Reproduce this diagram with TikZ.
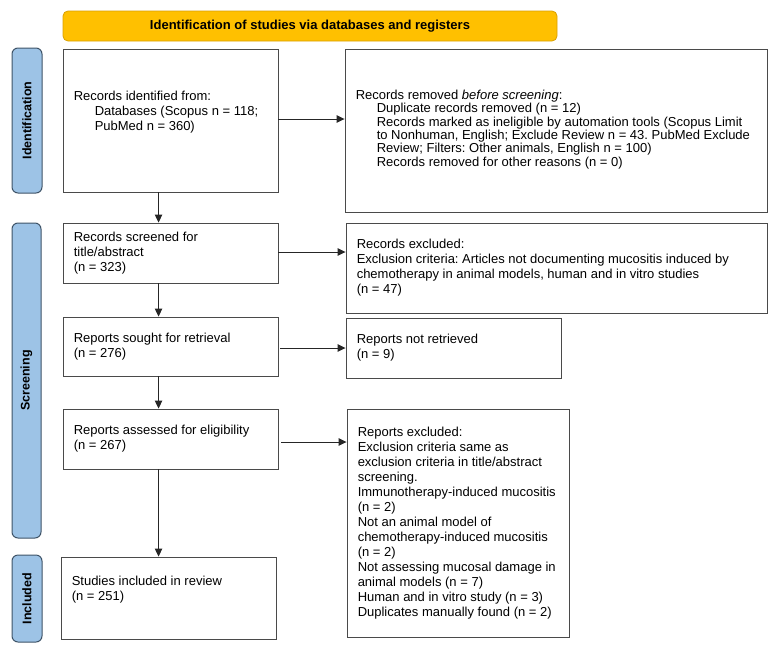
\documentclass[tikz,border=0pt]{standalone}
\usepackage{fontspec}
\setmainfont{Liberation Sans}
\usetikzlibrary{arrows.meta}
\frenchspacing
\definecolor{bannerfill}{HTML}{FFC000}
\definecolor{bannerdraw}{HTML}{D9A000}
\definecolor{sidefill}{HTML}{9DC3E6}
\definecolor{sidedraw}{HTML}{3F5468}
\definecolor{boxdraw}{HTML}{4A4A4A}
\tikzset{
  box/.style={draw=boxdraw, line width=0.9pt, rectangle, inner sep=0pt, anchor=center},
  txt/.style={inner sep=0pt, align=left, font=\fontsize{13}{15}\selectfont, anchor=west},
  side/.style={draw=sidedraw, fill=sidefill, line width=1pt, rounded corners=6pt, inner sep=0pt},
  sidelabel/.style={rotate=90, inner sep=0pt, font=\fontsize{12.5}{14}\selectfont\bfseries},
  banner/.style={draw=bannerdraw, fill=bannerfill, line width=0.8pt, rounded corners=5pt, inner sep=0pt,
    font=\fontsize{13}{15}\selectfont\bfseries},
  arr/.style={draw=black!85, line width=0.9pt, -{Triangle[length=8pt,width=7.5pt]}},
}
\newcommand{\ind}{\hspace*{21pt}}
\begin{document}
\begin{tikzpicture}[x=1pt,y=-1pt]
\useasboundingbox (0,0) rectangle (778,653);
% banner
\node[banner, minimum width=494pt, minimum height=30pt] (ban) at (310,26) {Identification of studies via databases and registers};
% sidebars
\node[side, minimum width=30pt, minimum height=145pt] (sid) at (27,120.5) {};
\node[sidelabel] (sidt) at (sid.center) {Identification};
\node[side, minimum width=29pt, minimum height=315pt] (sscr) at (26.5,380.5) {};
\node[sidelabel] (sscrt) at (sscr.center) {Screening};
\node[side, minimum width=30pt, minimum height=87pt] (sinc) at (27,598.5) {};
\node[sidelabel] (sinct) at (sinc.center) {Included};
% left column boxes
\node[box, minimum width=215pt, minimum height=143pt] (b1) at (170.5,120.5) {};
\node[box, minimum width=215pt, minimum height=60pt] (b2) at (170.5,253) {};
\node[box, minimum width=215pt, minimum height=59pt] (b3) at (170.5,346.5) {};
\node[box, minimum width=215pt, minimum height=60pt] (b4) at (170.5,439) {};
\node[box, minimum width=215pt, minimum height=82pt] (b5) at (168.5,598) {};
% right column boxes
\node[box, minimum width=422pt, minimum height=163pt] (r1) at (556,130.5) {};
\node[box, minimum width=421pt, minimum height=90pt] (r2) at (556.5,268) {};
\node[box, minimum width=215pt, minimum height=60pt] (r3) at (453.5,348) {};
\node[box, minimum width=222pt, minimum height=228pt] (r4) at (458,523) {};
% texts
\node[txt] (t1) at ([xshift=11pt,yshift=8pt]b1.west) {Records identified from:\\ \ind Databases (Scopus n = 118;\\ \ind PubMed n = 360)};
\node[txt] (t2) at ([xshift=11pt]b2.west) {Records screened for\\ title/abstract\\ (n = 323)};
\node[txt] (t3) at ([xshift=11pt]b3.west) {Reports sought for retrieval\\ (n = 276)};
\node[txt] (t4) at ([xshift=11pt]b4.west) {Reports assessed for eligibility\\ (n = 267)};
\node[txt] (t5) at ([xshift=11pt,yshift=8pt]b5.west) {Studies included in review\\ (n = 251)};
\node[txt, font=\fontsize{13}{13.4}\selectfont] (s1) at ([xshift=11pt,yshift=1pt]r1.west) {Records removed \emph{before screening}:\\ \ind Duplicate records removed (n = 12)\\ \ind Records marked as ineligible by automation tools (Scopus Limit\\ \ind to Nonhuman, English; Exclude Review n = 43. PubMed Exclude\\ \ind Review; Filters: Other animals, English n = 100)\\ \ind Records removed for other reasons (n = 0)};
\node[txt] (s2) at ([xshift=11pt]r2.west) {Records excluded:\\ Exclusion criteria: Articles not documenting mucositis induced by\\ chemotherapy in animal models, human and in vitro studies\\ (n = 47)};
\node[txt] (s3) at ([xshift=11pt]r3.west) {Reports not retrieved\\ (n = 9)};
\node[txt] (s4) at ([xshift=11pt]r4.west) {Reports excluded:\\ Exclusion criteria same as\\ exclusion criteria in title/abstract\\ screening.\\ Immunotherapy-induced mucositis\\ (n = 2)\\ Not an animal model of\\ chemotherapy-induced mucositis\\ (n = 2)\\ Not assessing mucosal damage in\\ animal models (n = 7)\\ Human and in vitro study (n = 3)\\ Duplicates manually found (n = 2)};
% horizontal arrows
\draw[arr] ([yshift=1.5pt]b1.east) -- ([yshift=1.5pt]b1.east -| r1.west);
\draw[arr] ([yshift=1pt]b2.east) -- ([yshift=1pt]b2.east -| r2.west);
\draw[arr, shorten <=2pt] ([yshift=-1.5pt]b3.east) -- ([yshift=-1.5pt]b3.east -| r3.west);
\draw[arr, shorten <=3pt] ([yshift=-3pt]b4.east) -- ([yshift=-3pt]b4.east -| r4.west);
% vertical arrows
\draw[arr] ([xshift=96pt]b1.south west) -- ([xshift=96pt]b1.south west |- b2.north);
\draw[arr] ([xshift=96pt]b2.south west) -- ([xshift=96pt]b2.south west |- b3.north);
\draw[arr] ([xshift=96pt]b3.south west) -- ([xshift=96pt]b3.south west |- b4.north);
\draw[arr] ([xshift=96pt]b4.south west) -- ([xshift=96pt]b4.south west |- b5.north);
\end{tikzpicture}
\end{document}
